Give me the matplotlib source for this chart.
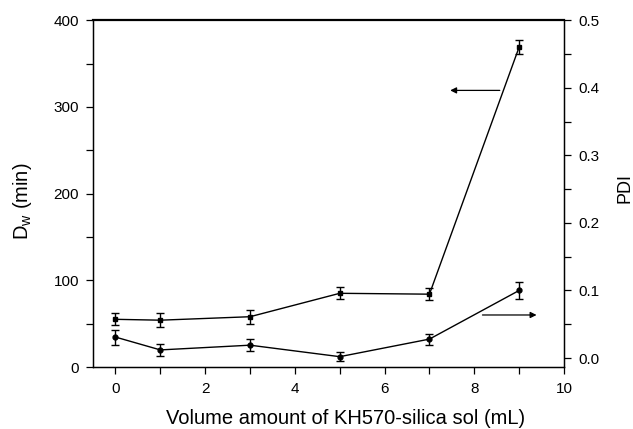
import matplotlib
matplotlib.use("Agg")
import matplotlib.pyplot as plt
from matplotlib.ticker import MultipleLocator, FormatStrFormatter

plt.rcParams['font.family'] = ['Liberation Sans', 'DejaVu Sans']

volume = [0, 1, 3, 5, 7, 9]
dw = [55, 54, 58, 85, 84, 369]
dw_err = [7, 8, 8, 7, 7, 8.5]
pdi = [0.031, 0.012, 0.019, 0.002, 0.028, 0.100]
pdi_err = [0.011, 0.009, 0.009, 0.007, 0.008, 0.012]

fig = plt.figure(figsize=(6.33, 4.29), dpi=100)
ax = fig.add_axes([0.147, 0.1445, 0.744, 0.8085])
ax2 = ax.twinx()

ax.errorbar(volume, dw, yerr=dw_err, color='black', lw=1.0, marker='s', ms=3.5,
            capsize=2.8, capthick=1.0, elinewidth=1.0)
ax2.errorbar(volume, pdi, yerr=pdi_err, color='black', lw=1.0, marker='o', ms=3.5,
             capsize=2.8, capthick=1.0, elinewidth=1.0)

ax.set_xlim(-0.5, 10)
ax.set_ylim(0, 400)
ax2.set_ylim(-0.0133, 0.5)

ax.xaxis.set_major_locator(MultipleLocator(2))
ax.xaxis.set_minor_locator(MultipleLocator(1))
ax.yaxis.set_major_locator(MultipleLocator(100))
ax.yaxis.set_minor_locator(MultipleLocator(50))
ax2.yaxis.set_major_locator(MultipleLocator(0.1))
ax2.yaxis.set_minor_locator(MultipleLocator(0.05))
ax2.yaxis.set_major_formatter(FormatStrFormatter('%.1f'))

for a in (ax, ax2):
    a.tick_params(which='both', direction='out', labelsize=11, width=0.9,
                  length=5, pad=5)
ax.tick_params(axis='x', pad=6)
ax.tick_params(axis='y', which='both', right=False)
ax2.tick_params(axis='y', which='both', left=False)

ax.spines['top'].set_linewidth(1.6)
ax.spines['left'].set_linewidth(1.0)
ax.spines['bottom'].set_linewidth(1.0)
ax2.spines['right'].set_linewidth(1.0)
ax2.spines['top'].set_visible(False)

ax.set_xlabel('Volume amount of KH570-silica sol (mL)', fontsize=14.5)
ax.xaxis.set_label_coords(0.537, -0.122)
ax.set_ylabel('D$_{\\mathregular{w}}$ (min)', fontsize=14.5)
ax.yaxis.set_label_coords(-0.125, 0.478)
ax2.set_ylabel('PDI', fontsize=13)
ax2.yaxis.set_label_coords(1.112, 0.516)

# arrows
ax.annotate('', xy=(7.4, 319), xytext=(8.63, 319),
            arrowprops=dict(arrowstyle='-|>', color='black', lw=0.9, mutation_scale=9))
ax.annotate('', xy=(9.45, 60), xytext=(8.12, 60),
            arrowprops=dict(arrowstyle='-|>', color='black', lw=0.9, mutation_scale=9))

fig.savefig('out.png', dpi=100)
